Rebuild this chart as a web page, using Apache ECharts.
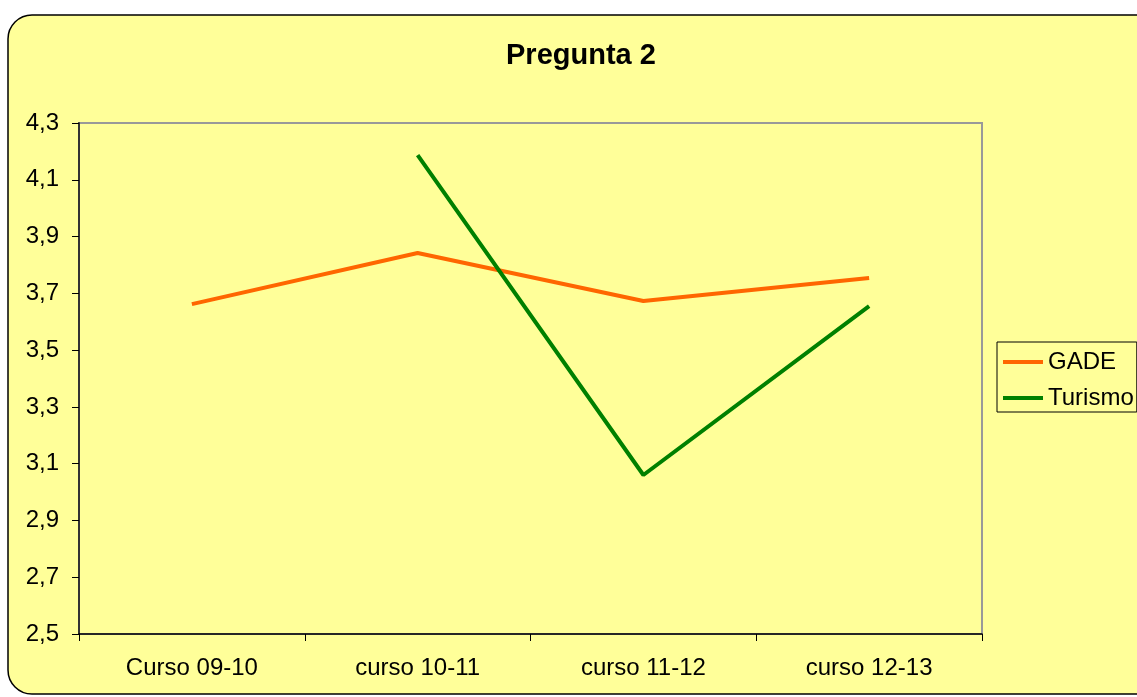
<!DOCTYPE html>
<html>
<head>
<meta charset="utf-8">
<script src="https://cdn.jsdelivr.net/npm/echarts@6/dist/echarts.min.js"></script>
<style>
html,body{margin:0;padding:0;background:#ffffff;}
#chart{width:1137px;height:697px;}
</style>
</head>
<body>
<div id="chart"></div>
<script>
const categories = ['Curso 09-10', 'curso 10-11', 'curso 11-12', 'curso 12-13'];
const gade = [3.662, 3.842, 3.673, 3.754];
const turismo = [null, 4.187, 3.06, 3.655];
const yMin = 2.5, yMax = 4.3, yStep = 0.2;

const chart = echarts.init(document.getElementById('chart'));
const font = 'Liberation Sans, Arial, sans-serif';
chart.setOption({
  animation: false,
  backgroundColor: '#ffffff',
  graphic: [{
    type: 'rect', z: -10, silent: true,
    shape: { x: 8, y: 15, width: 1200, height: 679, r: 24 },
    style: { fill: '#FFFF99', stroke: '#000000', lineWidth: 1.5 }
  }],
  title: {
    text: 'Pregunta 2', left: 501, top: 36,
    textStyle: { fontFamily: font, fontSize: 29, fontWeight: 'bold', color: '#000' }
  },
  legend: {
    orient: 'vertical', left: 997, top: 342,
    padding: [8, 3, 2, 6],
    itemGap: 12, itemWidth: 40, itemHeight: 4, icon: 'rect',
    backgroundColor: '#FFFF99', borderColor: '#000', borderWidth: 1,
    textStyle: { fontFamily: font, fontSize: 24, lineHeight: 24, color: '#000' },
    data: ['GADE', 'Turismo']
  },
  grid: {
    left: 79, right: 155, top: 123, bottom: 63,
    show: true, backgroundColor: '#FFFF99', borderColor: '#999999', borderWidth: 2
  },
  xAxis: {
    type: 'category', data: categories, boundaryGap: true,
    axisLine: { lineStyle: { color: '#000', width: 1.5 } },
    axisTick: { show: true, interval: 0, length: 7, lineStyle: { color: '#000' } },
    axisLabel: { fontFamily: font, fontSize: 24, color: '#000', margin: 22 },
    splitLine: { show: false }
  },
  yAxis: {
    type: 'value', min: yMin, max: yMax, interval: yStep,
    axisLine: { show: true, lineStyle: { color: '#333', width: 2 } },
    axisTick: { show: true, length: 7, lineStyle: { color: '#000' } },
    axisLabel: {
      fontFamily: font, fontSize: 24, color: '#000', margin: 20,
      formatter: v => v.toFixed(1).replace('.', ',')
    },
    splitLine: { show: false }
  },
  series: [
    { name: 'GADE', type: 'line', data: gade, showSymbol: false, symbol: 'none',
      lineStyle: { color: '#FF6600', width: 4 }, itemStyle: { color: '#FF6600' } },
    { name: 'Turismo', type: 'line', data: turismo, showSymbol: false, symbol: 'none',
      lineStyle: { color: '#008000', width: 4 }, itemStyle: { color: '#008000' } }
  ]
});
</script>
</body>
</html>
